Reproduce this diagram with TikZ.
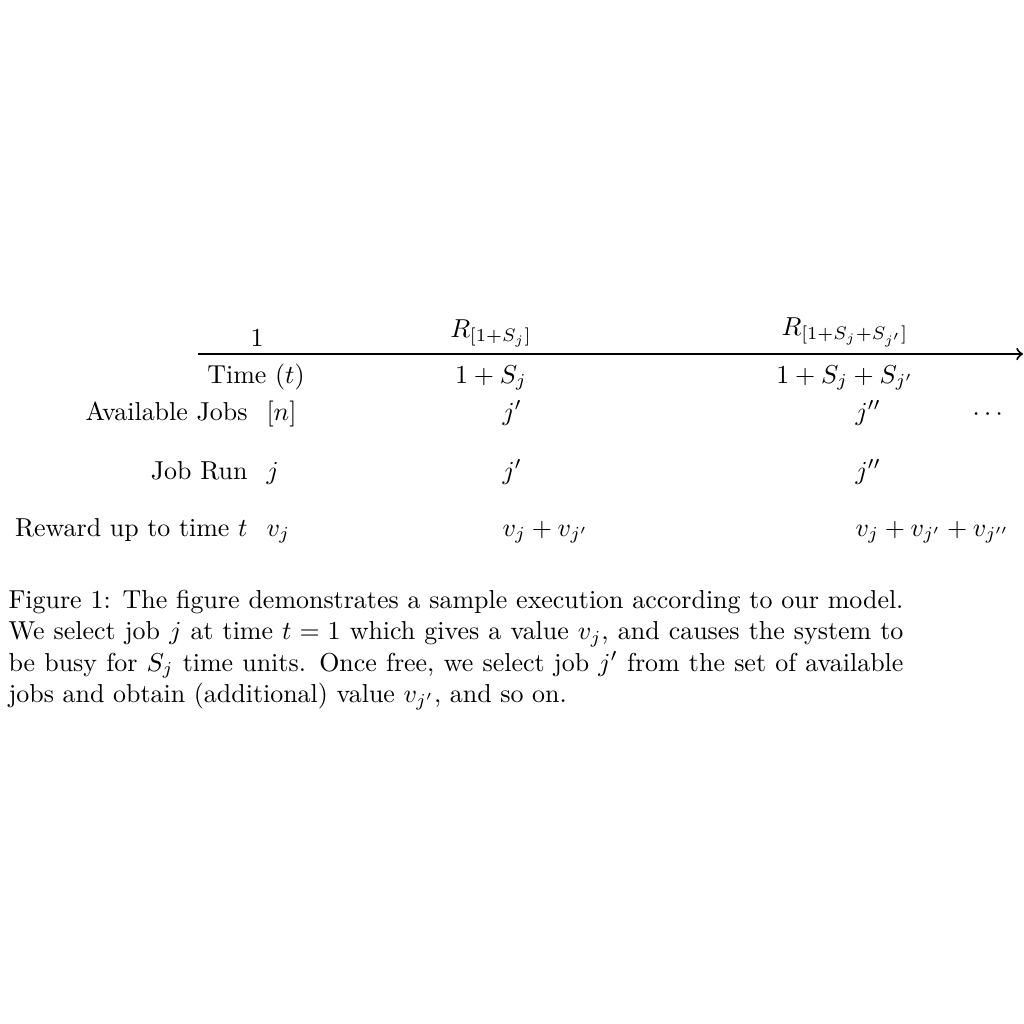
\documentclass[tikz,border=0pt]{standalone}
\usepackage{amsmath}
\begin{document}
\begin{tikzpicture}[x=0.3855pt,y=-0.3855pt,
  lbl/.style={inner sep=0pt,anchor=base},
  rowhead/.style={inner sep=0pt,anchor=base east},
  cell/.style={inner sep=0pt,anchor=base west},
  axis/.style={thick,->}]
\useasboundingbox (0,0) rectangle (1024,1024);
% time axis
\coordinate (a0) at (198,354);
\coordinate (a1) at (1023,354);
\draw[axis] (a0) -- (a1);
% above axis
\node[lbl] (top1) at (257,346) {$1$};
\node[lbl] (top2) at (491,337) {$R_{[1+S_j]}$};
\node[lbl] (top3) at (845,335) {$R_{[1+S_j+S_{j'}]}$};
% below axis
\node[lbl] (time) at (256,383) {Time $(t)$};
\node[lbl] (t2) at (491,383) {$1+S_j$};
\node[lbl] (t3) at (845,383) {$1+S_j+S_{j'}$};
% rows
\node[rowhead] (hAvail) at (248,420) {Available Jobs};
\node[cell] (av1) at (266,420) {$[n]$};
\node[cell] (av2) at (502,420) {$j'$};
\node[cell] (av3) at (855,420) {$j''$};
\node[cell] (av4) at (972,420) {$\cdots$};
\node[rowhead] (hRun) at (248,479) {Job Run};
\node[cell] (r1) at (266,479) {$j$};
\node[cell] (r2) at (502,479) {$j'$};
\node[cell] (r3) at (855,479) {$j''$};
\node[rowhead] (hRew) at (248,536) {Reward up to time $t$};
\node[cell] (w1) at (266,536) {$v_j$};
\node[cell] (w2) at (502,536) {$v_j+v_{j'}$};
\node[cell] (w3) at (855,536) {$v_j+v_{j'}+v_{j''}$};
% caption
\node[inner sep=0pt,anchor=north west,text width=345pt,align=justify] (cap) at (8,590)
{Figure 1: The figure demonstrates a sample execution according to our model. We select job $j$ at time $t=1$ which gives a value $v_j$, and causes the system to be busy for $S_j$ time units. Once free, we select job $j'$ from the set of available jobs and obtain (additional) value $v_{j'}$, and so on.};
\end{tikzpicture}
\end{document}
